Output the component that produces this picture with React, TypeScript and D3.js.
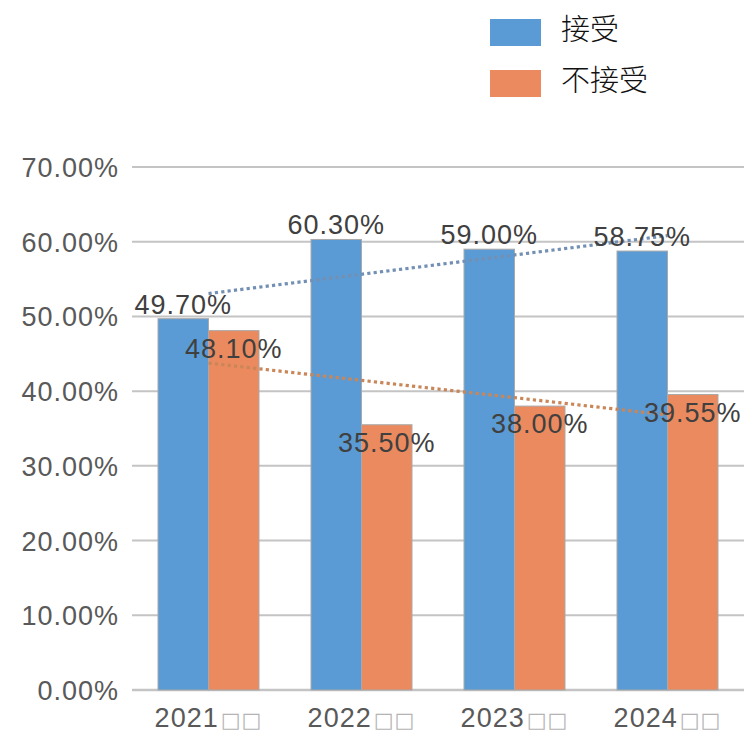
import React from "react";
import * as d3 from "d3";

const categories = ["2021", "2022", "2023", "2024"];
const categorySuffix = "□□";
const seriesNames = ["接受", "不接受"];
const acceptValues = [49.7, 60.3, 59.0, 58.75];
const rejectValues = [48.1, 35.5, 38.0, 39.55];
const yTicks = [0, 10, 20, 30, 40, 50, 60, 70];

const W = 744;
const H = 732;
const BLUE = "#5b9bd5";
const ORANGE = "#eb8a5e";
const BLUE_TREND = "#7390b4";
const ORANGE_TREND = "#c98658";
const FONT = "'Liberation Sans', Arial, sans-serif";

function regression(vals: number[]) {
  const xs = vals.map((_, i) => i + 1);
  const mx = d3.mean(xs) as number;
  const my = d3.mean(vals) as number;
  let num = 0;
  let den = 0;
  xs.forEach((x, i) => {
    num += (x - mx) * (vals[i] - my);
    den += (x - mx) * (x - mx);
  });
  const slope = num / den;
  return (x: number) => my + slope * (x - mx);
}

export default function App() {
  const x = d3
    .scaleBand<string>()
    .domain(categories)
    .range([132, 744])
    .paddingInner(0.34)
    .paddingOuter(0.17);
  const y = d3.scaleLinear().domain([0, 70]).range([690, 167]);
  const bw = x.bandwidth() / 2;

  const series = [
    { name: seriesNames[0], values: acceptValues, color: BLUE, trend: BLUE_TREND, offset: 0 },
    { name: seriesNames[1], values: rejectValues, color: ORANGE, trend: ORANGE_TREND, offset: 1 },
  ];

  const center = (c: string) => (x(c) as number) + x.bandwidth() / 2;
  const line = d3
    .line<[number, number]>()
    .x((d) => d[0])
    .y((d) => d[1]);

  return (
    <div style={{ position: "fixed", left: 0, top: 0 }}>
      <svg width={W} height={H} style={{ display: "block", background: "#fff" }}>
        {/* legend */}
        {series.map((s, i) => (
          <g key={s.name}>
            <rect x={490} y={19 + i * 51} width={51} height={27} fill={s.color} />
            <text
              x={561}
              y={40 + i * 51}
              fontSize={29}
              fontFamily="'Noto Sans CJK SC', sans-serif"
              fontWeight={300}
              fill="#111"
            >
              {s.name}
            </text>
          </g>
        ))}

        {/* gridlines */}
        {yTicks.map((t) => (
          <line
            key={t}
            x1={132}
            x2={744}
            y1={y(t)}
            y2={y(t)}
            stroke="#c4c4c4"
            strokeWidth={t === 0 ? 2.5 : 2}
          />
        ))}

        {/* y tick labels */}
        {yTicks.map((t) => (
          <text
            key={t}
            x={119}
            y={y(t) + 10}
            textAnchor="end"
            fontSize={27}
            letterSpacing={1}
            fontFamily={FONT}
            fill="#595959"
          >
            {t.toFixed(2) + "%"}
          </text>
        ))}

        {/* bars */}
        {series.map((s) =>
          categories.map((c, i) => (
            <rect
              key={s.name + c}
              x={(x(c) as number) + s.offset * bw}
              y={y(s.values[i])}
              width={bw}
              height={y(0) - y(s.values[i])}
              fill={s.color}
              stroke="#a9a9a9"
              strokeWidth={1}
            />
          ))
        )}

        {/* trend lines */}
        {series.map((s) => {
          const f = regression(s.values);
          const pts: [number, number][] = [
            [center(categories[0]), y(f(1))],
            [center(categories[categories.length - 1]), y(f(categories.length))],
          ];
          return (
            <path
              key={s.name + "trend"}
              d={line(pts) as string}
              fill="none"
              stroke={s.trend}
              strokeWidth={3.2}
              strokeDasharray="3.2 3.2"
            />
          );
        })}

        {/* data labels */}
        {categories.map((c, i) => (
          <text
            key={"a" + c}
            x={(x(c) as number) + bw / 2}
            y={y(acceptValues[i]) - 5}
            textAnchor="middle"
            fontSize={27}
            letterSpacing={1}
            fontFamily={FONT}
            fill="#404040"
          >
            {acceptValues[i].toFixed(2) + "%"}
          </text>
        ))}
        {categories.map((c, i) => (
          <text
            key={"r" + c}
            x={(x(c) as number) + bw * 1.5}
            y={y(rejectValues[i]) + 27}
            textAnchor="middle"
            fontSize={27}
            letterSpacing={1}
            fontFamily={FONT}
            fill="#404040"
          >
            {rejectValues[i].toFixed(2) + "%"}
          </text>
        ))}

        {/* x labels */}
        {categories.map((c) => (
          <text
            key={"x" + c}
            x={center(c)}
            y={727}
            textAnchor="middle"
            fontSize={27}
            letterSpacing={1}
            fontFamily={FONT}
            fill="#595959"
          >
            {c}
            <tspan fill="#b4b4b4" fontSize={21} fontFamily="'DejaVu Sans', sans-serif" letterSpacing={1} dx={2}>
              {categorySuffix}
            </tspan>
          </text>
        ))}
      </svg>
    </div>
  );
}
